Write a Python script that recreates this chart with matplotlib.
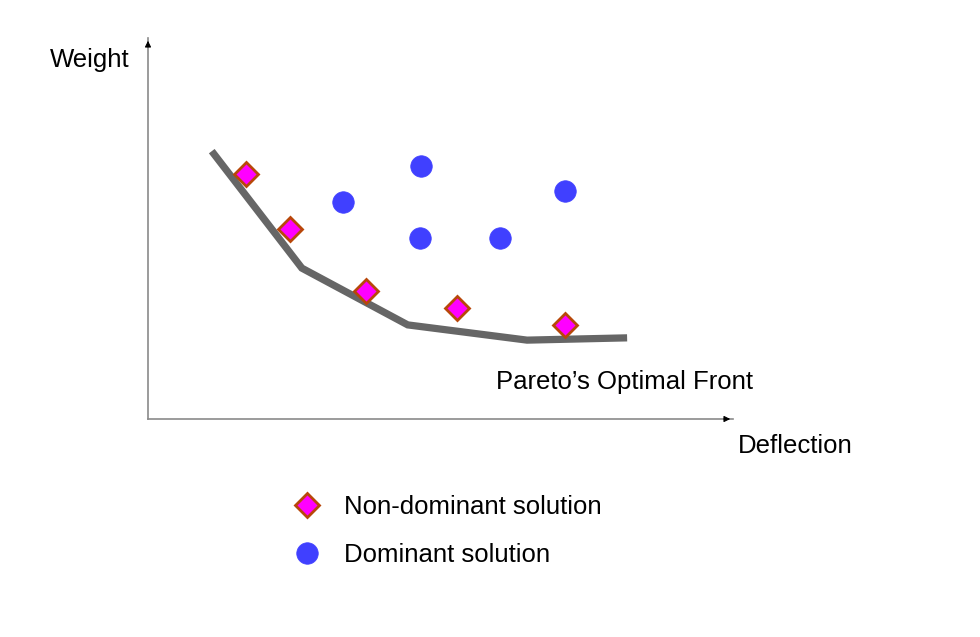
import matplotlib
matplotlib.use("Agg")
import matplotlib.pyplot as plt
from matplotlib.lines import Line2D

plt.rcParams['font.family'] = ['Liberation Sans', 'DejaVu Sans']

# ---- data (abstract units, x: deflection, y: weight) ----
front_x = [1.09, 2.63, 4.44, 6.48, 8.19]
front_y = [7.03, 3.96, 2.47, 2.07, 2.13]

nondom_x = [1.68, 2.43, 3.73, 5.28, 7.13]
nondom_y = [6.43, 4.99, 3.36, 2.91, 2.47]

dom_x = [4.67, 3.33, 7.13, 4.65, 6.02]
dom_y = [6.64, 5.70, 5.98, 4.75, 4.75]

x_label = "Deflection"
y_label = "Weight"
front_label = "Pareto\u2019s Optimal Front"
legend_labels = ["Non-dominant solution", "Dominant solution"]

W, H = 980, 637
fig = plt.figure(figsize=(W / 100, H / 100), dpi=100)
fig.patch.set_facecolor("white")

# axes: origin at pixel (148, 419), x tip 733, y tip 38
x0, y0, x1, y1 = 148, 419, 733, 38
ax = fig.add_axes([x0 / W, (H - y0) / H, (x1 - x0) / W, (y0 - y1) / H])
ax.set_xlim(0, 10)
ax.set_ylim(0, 10)
ax.axis("off")

# axis lines with arrowheads
axis_color = "#8a8a8a"
ax.plot([0, 1], [0, 0], transform=ax.transAxes, color=axis_color, lw=1.2, clip_on=False)
ax.plot([0, 0], [0, 1], transform=ax.transAxes, color=axis_color, lw=1.2, clip_on=False)
ax.annotate("", xy=(1.0, 0), xytext=(0.98, 0), xycoords="axes fraction",
            arrowprops=dict(arrowstyle="-|>", color="black", lw=0.8, mutation_scale=9))
ax.annotate("", xy=(0, 1.0), xytext=(0, 0.97), xycoords="axes fraction",
            arrowprops=dict(arrowstyle="-|>", color="black", lw=0.8, mutation_scale=9))

# Pareto front
ax.plot(front_x, front_y, color="#666666", lw=5.2, solid_capstyle="butt",
        solid_joinstyle="miter", zorder=2, clip_on=False)

diamond_kw = dict(marker="D", markersize=12.5, markerfacecolor="#FF00FF",
                  markeredgecolor="#B8470A", markeredgewidth=2.0, linestyle="none")
circle_kw = dict(marker="o", markersize=15.5, markerfacecolor="#4040FF",
                 markeredgecolor="#4040FF", markeredgewidth=0.5, linestyle="none")

ax.plot(nondom_x, nondom_y, zorder=3, clip_on=False, **diamond_kw)
ax.plot(dom_x, dom_y, zorder=3, clip_on=False, **circle_kw)

fs = 18.5
ax.text(5.95, 0.97, front_label, fontsize=fs, ha="left", va="center", clip_on=False)
ax.text(-1.68, 9.42, y_label, fontsize=fs, ha="left", va="center", clip_on=False)
ax.text(10.09, -0.71, x_label, fontsize=fs, ha="left", va="center", clip_on=False)

handles = [Line2D([], [], **diamond_kw), Line2D([], [], **circle_kw)]
fig.legend(handles, legend_labels, loc="upper left",
           bbox_to_anchor=(292 / W, (H - 495) / H), frameon=False, fontsize=fs,
           handlelength=1.2, handletextpad=0.83, borderpad=0, borderaxespad=0,
           labelspacing=0.95)

fig.savefig("out.png", dpi=100, facecolor="white")
